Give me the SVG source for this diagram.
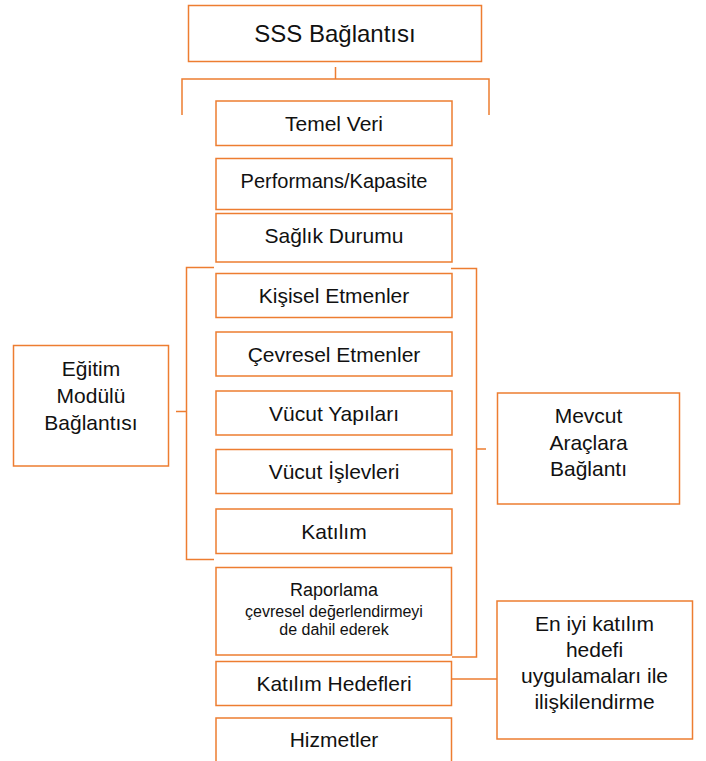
<svg xmlns="http://www.w3.org/2000/svg" width="706" height="761" viewBox="0 0 706 761">
<style>
.box{fill:#fff;stroke:#ED7D31;stroke-width:1.5}
.ln{fill:none;stroke:#ED7D31;stroke-width:1.5}
text{font-family:"Liberation Sans",Arial,sans-serif;fill:#111;text-anchor:middle;font-size:21px}
.big{font-size:24px}
.sm{font-size:16px}
.md{font-size:18px}
.pf{font-size:20px}
</style>
<rect width="706" height="761" fill="#fff"/>
<g id="connectors">
<path class="ln" d="M335.5 67V79M182 115V79H489V115"/>
<path class="ln" d="M214 267.5H186.5V559.5H214M176 411.5H186.5"/>
<path class="ln" d="M451 268.5H476.5V657H452M476.5 449H486"/>
<path class="ln" d="M451.5 679H497"/>
</g>
<g id="sss"><rect class="box" x="188.5" y="5.5" width="293" height="56"/><text class="big" x="335" y="42">SSS Bağlantısı</text></g>
<g id="temel"><rect class="box" x="216" y="101" width="236" height="44.5"/><text x="334" y="131">Temel Veri</text></g>
<g id="performans"><rect class="box" x="216" y="158.5" width="236" height="51"/><text class="pf" x="334" y="188">Performans/Kapasite</text></g>
<g id="saglik"><rect class="box" x="216" y="213.5" width="236" height="48.5"/><text x="334" y="243">Sağlık Durumu</text></g>
<g id="kisisel"><rect class="box" x="216" y="273.5" width="236" height="44"/><text x="334" y="303">Kişisel Etmenler</text></g>
<g id="cevresel"><rect class="box" x="216" y="332" width="236" height="44"/><text x="334" y="362">Çevresel Etmenler</text></g>
<g id="yapilari"><rect class="box" x="216" y="391" width="236" height="44"/><text x="334" y="421">Vücut Yapıları</text></g>
<g id="islevleri"><rect class="box" x="216" y="449.5" width="236" height="44"/><text x="334" y="479">Vücut İşlevleri</text></g>
<g id="katilim"><rect class="box" x="216" y="509" width="236" height="44.5"/><text x="334" y="538.5">Katılım</text></g>
<g id="raporlama"><rect class="box" x="216" y="567.5" width="235.5" height="87.5"/><text class="md" x="334" y="596">Raporlama</text><text class="sm" x="334" y="617">çevresel değerlendirmeyi</text><text class="sm" x="334" y="635">de dahil ederek</text></g>
<g id="hedefler"><rect class="box" x="216" y="661.5" width="235.5" height="44"/><text x="334" y="691">Katılım Hedefleri</text></g>
<g id="hizmetler"><rect class="box" x="216" y="718" width="235.5" height="50"/><text x="334" y="747">Hizmetler</text></g>
<g id="egitim"><rect class="box" x="13.5" y="345.5" width="155" height="120.5"/><text x="91" y="376">Eğitim</text><text x="91" y="403">Modülü</text><text x="91" y="430">Bağlantısı</text></g>
<g id="mevcut"><rect class="box" x="497.5" y="393" width="182" height="111"/><text x="588.5" y="422.5">Mevcut</text><text x="588.5" y="449.5">Araçlara</text><text x="588.5" y="475.5">Bağlantı</text></g>
<g id="eniyi"><rect class="box" x="497" y="601" width="195.5" height="138"/><text x="594.5" y="631">En iyi katılım</text><text x="594.5" y="657">hedefi</text><text x="594.5" y="683">uygulamaları ile</text><text x="594.5" y="708.5">ilişkilendirme</text></g>
</svg>
